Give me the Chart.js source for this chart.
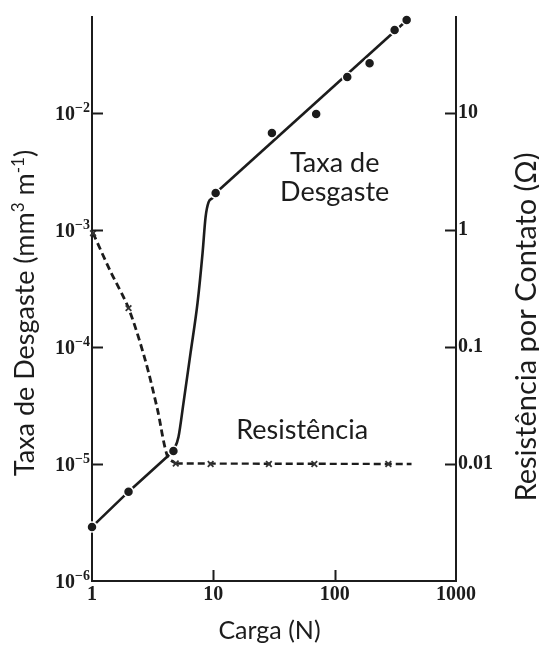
<!DOCTYPE html>
<html>
<head>
<meta charset="utf-8">
<script src="https://cdn.jsdelivr.net/npm/chart.js@4/dist/chart.umd.min.js"></script>
<style>
  html, body { margin: 0; padding: 0; background: #fff; }
  #wrap { width: 539px; height: 646px; }
</style>
</head>
<body>
<div id="wrap"><canvas id="c" width="539" height="646"></canvas></div>
<script>
// Measured wear rate (mm3/m) against load (N)
const loadPts = [1, 2, 4.69, 10.45, 30.4, 70.4, 127, 194, 312, 392];
const wearPts = [2.9e-6, 5.8e-6, 1.29e-5, 2.07e-3, 6.75e-3, 9.8e-3, 2.03e-2, 2.67e-2, 5.12e-2, 6.24e-2];

// Wear trend: mild regime, transition, severe regime
const wearLowLoad = [1, 2, 4.69];
const wearLowRate = [2.9e-6, 5.8e-6, 1.29e-5];
const wearTransLoad = [4.69, 5.16, 5.67, 6.49, 7.41, 8.15, 8.63, 9.14, 9.87, 10.45];
const wearTransRate = [1.29e-5, 1.70e-5, 3.3e-5, 8.9e-5, 2.38e-4, 6.35e-4, 1.29e-3, 1.73e-3, 1.88e-3, 2.07e-3];
const wearHighLoad = [10.45, 400];
const wearHighRate = [2.07e-3, 6.3e-2];

// Contact resistance (ohm) against load (N)
const resLoad = [1.02, 2, 4.9, 9.5, 28.7, 68, 277];
const resOhm = [0.94, 0.215, 0.0101, 0.01, 0.01, 0.01, 0.01];
const resDropLoad = [1.02, 1.41, 2, 2.75, 3.47, 4.2, 4.9];
const resDropOhm = [0.94, 0.45, 0.215, 0.077, 0.029, 0.0115, 0.0101];
const resFlatLoad = [4.9, 430];
const resFlatOhm = [0.0101, 0.01];

// Axis ticks
const xTicks = [1, 10, 100, 1000];
const xLabels = ['1', '10', '100', '1000'];
const yTicks = [1e-6, 1e-5, 1e-4, 1e-3, 1e-2];
const y2Ticks = [0.01, 0.1, 1, 10];
const y2Labels = ['0.01', '0.1', '1', '10'];

const INK = '#1c1c1c';
const SERIF = '"Liberation Serif", "DejaVu Serif", serif';
const SANS = 'Lato, "Open Sans", sans-serif';
const Y_MIN = 1e-6, Y_MAX = 0.0662;

const pairs = (xs, ys) => xs.map((v, i) => ({ x: v, y: ys[i] }));

const lineStyle = {
  type: 'line', showLine: true, pointRadius: 0, borderColor: INK,
  borderWidth: 2.6, fill: false, clip: false, order: 2
};

const decor = {
  id: 'decor',
  afterDraw(chart) {
    const ctx = chart.ctx;
    const { x, y, y2 } = chart.scales;
    const a = chart.chartArea;
    ctx.save();
    ctx.strokeStyle = INK;
    ctx.lineWidth = 2;
    // inward tick marks
    ctx.beginPath();
    yTicks.slice(1).forEach(v => {
      const p = Math.round(y.getPixelForValue(v)) + 0.5;
      ctx.moveTo(a.left, p); ctx.lineTo(a.left + 11, p);
    });
    xTicks.slice(1, -1).forEach(v => {
      const p = Math.round(x.getPixelForValue(v)) + 0.5;
      ctx.moveTo(p, a.bottom); ctx.lineTo(p, a.bottom - 11);
    });
    y2Ticks.forEach(v => {
      const p = Math.round(y2.getPixelForValue(v)) + 0.5;
      ctx.moveTo(a.right - 11, p); ctx.lineTo(a.right, p);
    });
    ctx.stroke();

    // left tick labels, powers of ten
    ctx.fillStyle = INK;
    ctx.textBaseline = 'middle';
    yTicks.forEach(v => {
      const p = y.getPixelForValue(v);
      const e = '\u2212' + String(-Math.round(Math.log10(v)));
      ctx.font = 'bold 14px ' + SERIF;
      const ew = ctx.measureText(e).width;
      const right = a.left - 2;
      ctx.textAlign = 'left';
      ctx.fillText(e, right - ew, p - 5);
      ctx.font = 'bold 20px ' + SERIF;
      ctx.textAlign = 'right';
      ctx.fillText('10', right - ew, p + 2);
    });

    // axis titles
    ctx.font = '25px ' + SANS;
    ctx.textAlign = 'center';
    ctx.textBaseline = 'middle';
    ctx.fillText('Carga (N)', chart.width / 2, 631);

    ctx.save();
    ctx.translate(527, 327);
    ctx.rotate(-Math.PI / 2);
    ctx.font = '29px ' + SANS;
    ctx.fillText('Resist\u00eancia por Contato (\u03a9)', 0, 0);
    ctx.restore();

    // left title with superscripts
    const parts = [
      ['Taxa de Desgaste (mm', false], ['3', true], [' m', false], ['-1', true], [')', false]
    ];
    const big = '27px ' + SANS, small = '17px ' + SANS;
    let total = 0;
    parts.forEach(([t, s]) => { ctx.font = s ? small : big; total += ctx.measureText(t).width; });
    ctx.save();
    ctx.translate(25, 313);
    ctx.rotate(-Math.PI / 2);
    ctx.textAlign = 'left';
    ctx.textBaseline = 'alphabetic';
    let cx = -total / 2;
    parts.forEach(([t, s]) => {
      ctx.font = s ? small : big;
      ctx.fillText(t, cx, s ? -1 : 9);
      cx += ctx.measureText(t).width;
    });
    ctx.restore();

    // curve labels
    ctx.font = '27px ' + SANS;
    ctx.textAlign = 'center';
    ctx.textBaseline = 'middle';
    ctx.fillText('Taxa de', x.getPixelForValue(100), y.getPixelForValue(3.7e-3));
    ctx.fillText('Desgaste', x.getPixelForValue(100), y.getPixelForValue(2.1e-3));
    ctx.fillText('Resist\u00eancia', x.getPixelForValue(54), y.getPixelForValue(1.95e-5));
    ctx.restore();
  }
};

new Chart(document.getElementById('c'), {
  type: 'scatter',
  data: {
    datasets: [
      { ...lineStyle, data: pairs(wearLowLoad, wearLowRate), yAxisID: 'y' },
      { ...lineStyle, data: pairs(wearTransLoad, wearTransRate), yAxisID: 'y', cubicInterpolationMode: 'monotone' },
      { ...lineStyle, data: pairs(wearHighLoad, wearHighRate), yAxisID: 'y' },
      { ...lineStyle, data: pairs(resDropLoad, resDropOhm), yAxisID: 'y2', borderDash: [7, 4], borderWidth: 2.8, tension: 0.3 },
      { ...lineStyle, data: pairs(resFlatLoad, resFlatOhm), yAxisID: 'y2', borderDash: [7, 4], borderWidth: 2.4 },
      {
        type: 'scatter', data: pairs(loadPts, wearPts), yAxisID: 'y', order: 0, clip: false,
        pointRadius: 5, pointBackgroundColor: INK, pointBorderColor: '#fff', pointBorderWidth: 1.5
      },
      {
        type: 'scatter', data: pairs(resLoad, resOhm), yAxisID: 'y2', order: 0, clip: false,
        pointStyle: 'crossRot', pointRadius: 4, pointBorderColor: '#333', pointBorderWidth: 1.8
      }
    ]
  },
  options: {
    responsive: false,
    animation: false,
    devicePixelRatio: 1,
    layout: { padding: { top: 17, left: 0, right: 0, bottom: 0 } },
    plugins: { legend: { display: false }, tooltip: { enabled: false } },
    scales: {
      x: {
        type: 'logarithmic', position: 'bottom', min: 1, max: 1000,
        afterBuildTicks: s => { s.ticks = xTicks.map(v => ({ value: v })); },
        afterFit: s => { s.height = 65; },
        ticks: {
          callback: (v, i) => xLabels[i], font: { family: SERIF, size: 20, weight: 'bold' },
          color: INK, padding: 2, maxRotation: 0, autoSkip: false
        },
        grid: { display: false, drawTicks: false },
        border: { display: true, color: INK, width: 2 }
      },
      y: {
        type: 'logarithmic', position: 'left', min: Y_MIN, max: Y_MAX,
        afterBuildTicks: s => { s.ticks = yTicks.map(v => ({ value: v })); },
        afterFit: s => { s.width = 92; },
        ticks: { display: false },
        grid: { display: false, drawTicks: false },
        border: { display: true, color: INK, width: 2 }
      },
      y2: {
        type: 'logarithmic', position: 'right', min: Y_MIN * 1000, max: Y_MAX * 1000,
        afterBuildTicks: s => { s.ticks = y2Ticks.map(v => ({ value: v })); },
        afterFit: s => { s.width = 83; },
        ticks: {
          callback: (v, i) => y2Labels[i], font: { family: SERIF, size: 20, weight: 'bold' },
          color: INK, padding: 2, autoSkip: false
        },
        grid: { display: false, drawTicks: false },
        border: { display: true, color: INK, width: 2 }
      }
    }
  },
  plugins: [decor]
});
</script>
</body>
</html>
